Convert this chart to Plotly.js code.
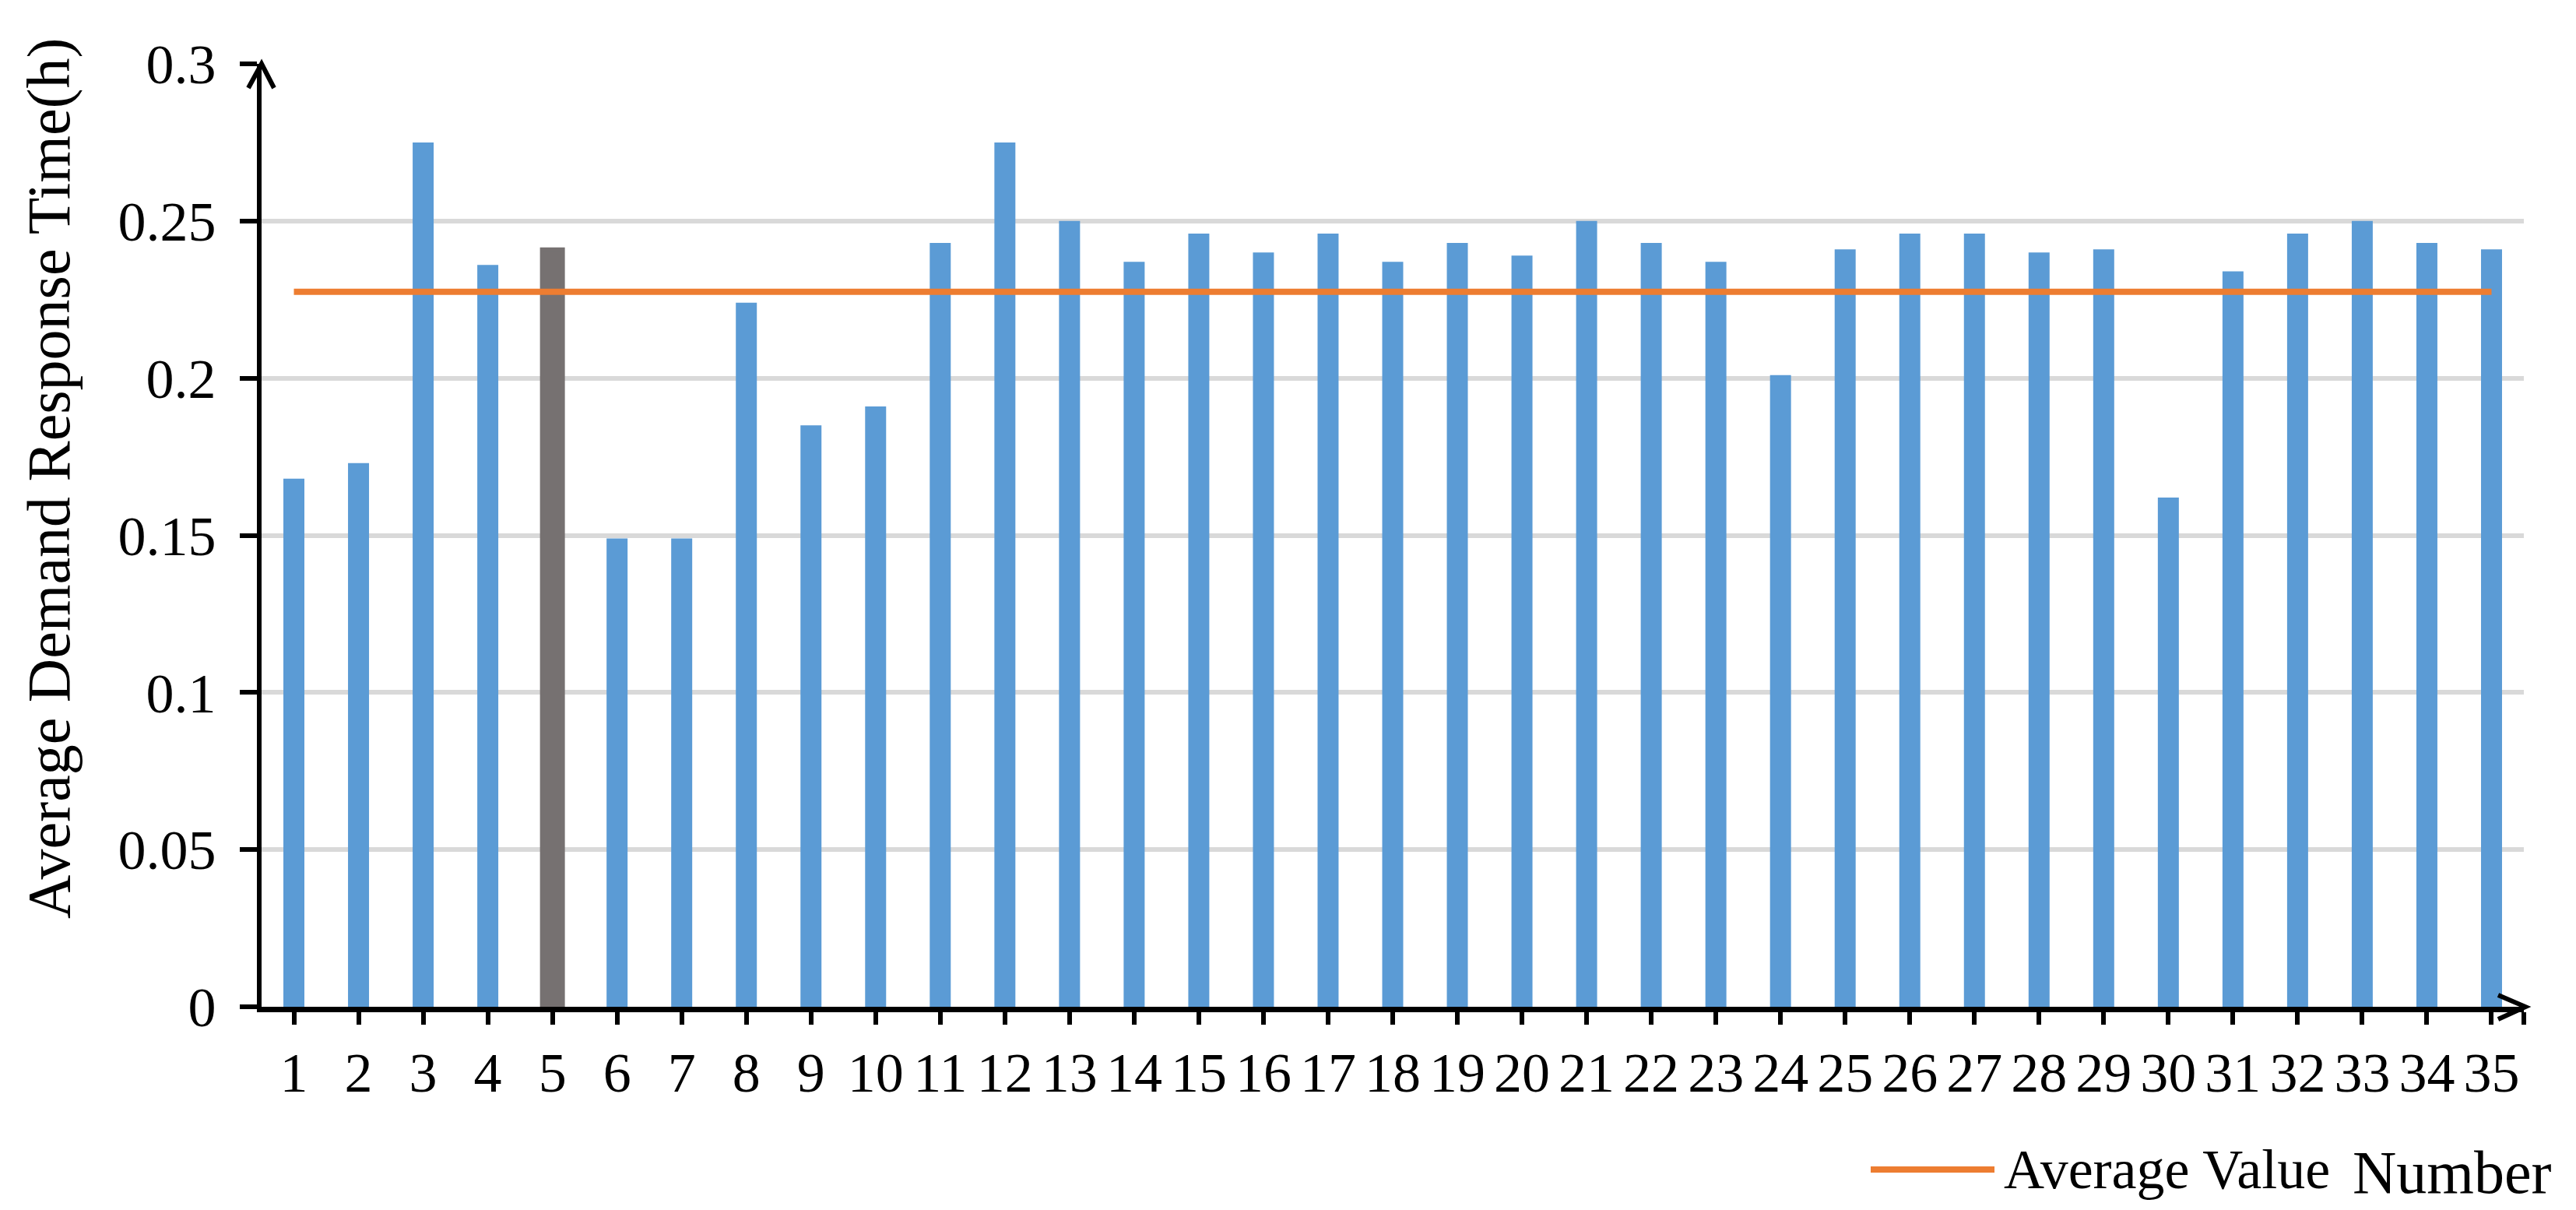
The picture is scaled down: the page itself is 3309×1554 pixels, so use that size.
<!DOCTYPE html>
<html>
<head>
<meta charset="utf-8">
<script src="https://cdn.plot.ly/plotly-3.0.1.min.js"></script>
<style>html,body{margin:0;padding:0;background:#fff;}#chart{width:3309px;height:1554px;}</style>
</head>
<body>
<div id="chart"></div>
<script>
// ---- data ----
const categories = [1,2,3,4,5,6,7,8,9,10,11,12,13,14,15,16,17,18,19,20,21,22,23,24,25,26,27,28,29,30,31,32,33,34,35];
const responseTime = [0.168,0.173,0.275,0.236,0.241,0.149,0.149,0.224,0.185,0.191,
                      0.243,0.275,0.250,0.237,0.246,0.240,0.246,0.237,0.243,0.239,
                      0.250,0.243,0.237,0.201,0.241,0.246,0.246,0.240,0.241,0.162,
                      0.234,0.246,0.250,0.243,0.241];
const averageValue = [0.2275];
const highlightedCategories = [5];
const yTickValues = [0, 0.05, 0.1, 0.15, 0.2, 0.25, 0.3];
const yTickLabels = ['0', '0.05', '0.1', '0.15', '0.2', '0.25', '0.3'];
const xTickLabels = categories.map(String);
const seriesName = 'Average Value';
const yTitle = 'Average Demand Response Time(h)';
const xTitle = 'Number';

// ---- styling ----
const BLUE = '#5B9BD5', GREY = '#767171', ORANGE = '#ED7D31', GRID = '#D9D9D9';
const FONT = 'Liberation Serif, Times New Roman, serif';

const W = 3309, H = 1554;
const M = {l: 336, r: 67, t: 82, b: 261};
const PW = W - M.l - M.r, PH = H - M.t - M.b;
const px = x => (x - M.l) / PW;           // pixel -> paper x
const py = y => (H - M.b - y) / PH;       // pixel -> paper y

const isHi = categories.map(c => highlightedCategories.includes(c));

const bars = {
  type: 'bar',
  x: categories,
  y: responseTime,
  marker: {
    color: isHi.map(h => h ? GREY : BLUE),
    line: {color: isHi.map(h => h ? GREY : BLUE), width: isHi.map(h => h ? 5 : 0)}
  },
  showlegend: false,
  hoverinfo: 'x+y'
};

const avgLine = {
  type: 'scatter',
  mode: 'lines',
  name: seriesName,
  x: categories,
  y: categories.map(() => averageValue[0]),
  line: {color: ORANGE, width: 8},
  showlegend: false
};

const blackLine = {color: 'black', width: 6};
const shapes = [
  // y-axis arrow head
  {type: 'path', xref: 'paper', yref: 'paper', layer: 'above',
   path: `M${px(319)},${py(113)} L${px(336)},${py(82)} L${px(352)},${py(113)}`,
   line: blackLine},
  // x-axis arrow head
  {type: 'path', xref: 'paper', yref: 'paper', layer: 'above',
   path: `M${px(3209)},${py(1278)} L${px(3244)},${py(1293)} L${px(3209)},${py(1309)}`,
   line: blackLine},
  // legend sample
  {type: 'line', xref: 'paper', yref: 'paper', layer: 'above',
   x0: px(2403), x1: px(2562), y0: py(1502), y1: py(1502),
   line: {color: ORANGE, width: 8}}
];

const annotations = [
  {text: yTitle, textangle: -90, xref: 'paper', yref: 'paper',
   x: px(62), y: py(614), xanchor: 'center', yanchor: 'middle', showarrow: false,
   font: {family: FONT, size: 78, color: 'black'}},
  {text: xTitle, xref: 'paper', yref: 'paper',
   x: px(3020), y: py(1505), xanchor: 'left', yanchor: 'middle', showarrow: false,
   font: {family: FONT, size: 78, color: 'black'}},
  {text: seriesName, xref: 'paper', yref: 'paper',
   x: px(2572), y: py(1502), xanchor: 'left', yanchor: 'middle', showarrow: false,
   font: {family: FONT, size: 72, color: 'black'}}
];

const layout = {
  width: W, height: H,
  margin: M,
  paper_bgcolor: 'white', plot_bgcolor: 'white',
  bargap: 0.675,
  showlegend: false,
  font: {family: FONT, size: 72, color: 'black'},
  xaxis: {
    range: [0.5, 35.5],
    tickvals: categories.concat([35.5]),
    ticktext: xTickLabels.concat(['']),
    showgrid: false, zeroline: false,
    showline: true, linecolor: 'black', linewidth: 7,
    ticks: 'outside', ticklen: 16, tickwidth: 6, tickcolor: 'black',
    tickfont: {family: FONT, size: 72, color: 'black'},
    ticklabelstandoff: 0
  },
  yaxis: {
    range: [0, 0.3],
    tickvals: yTickValues,
    ticktext: yTickLabels,
    showgrid: true, gridcolor: GRID, gridwidth: 6,
    zeroline: false,
    showline: true, linecolor: 'black', linewidth: 6,
    ticks: 'outside', ticklen: 22, tickwidth: 6, tickcolor: 'black',
    tickfont: {family: FONT, size: 72, color: 'black'},
    ticklabelstandoff: 16
  },
  shapes: shapes,
  annotations: annotations
};

Plotly.newPlot('chart', [bars, avgLine], layout, {displayModeBar: false, staticPlot: true});
</script>
</body>
</html>
